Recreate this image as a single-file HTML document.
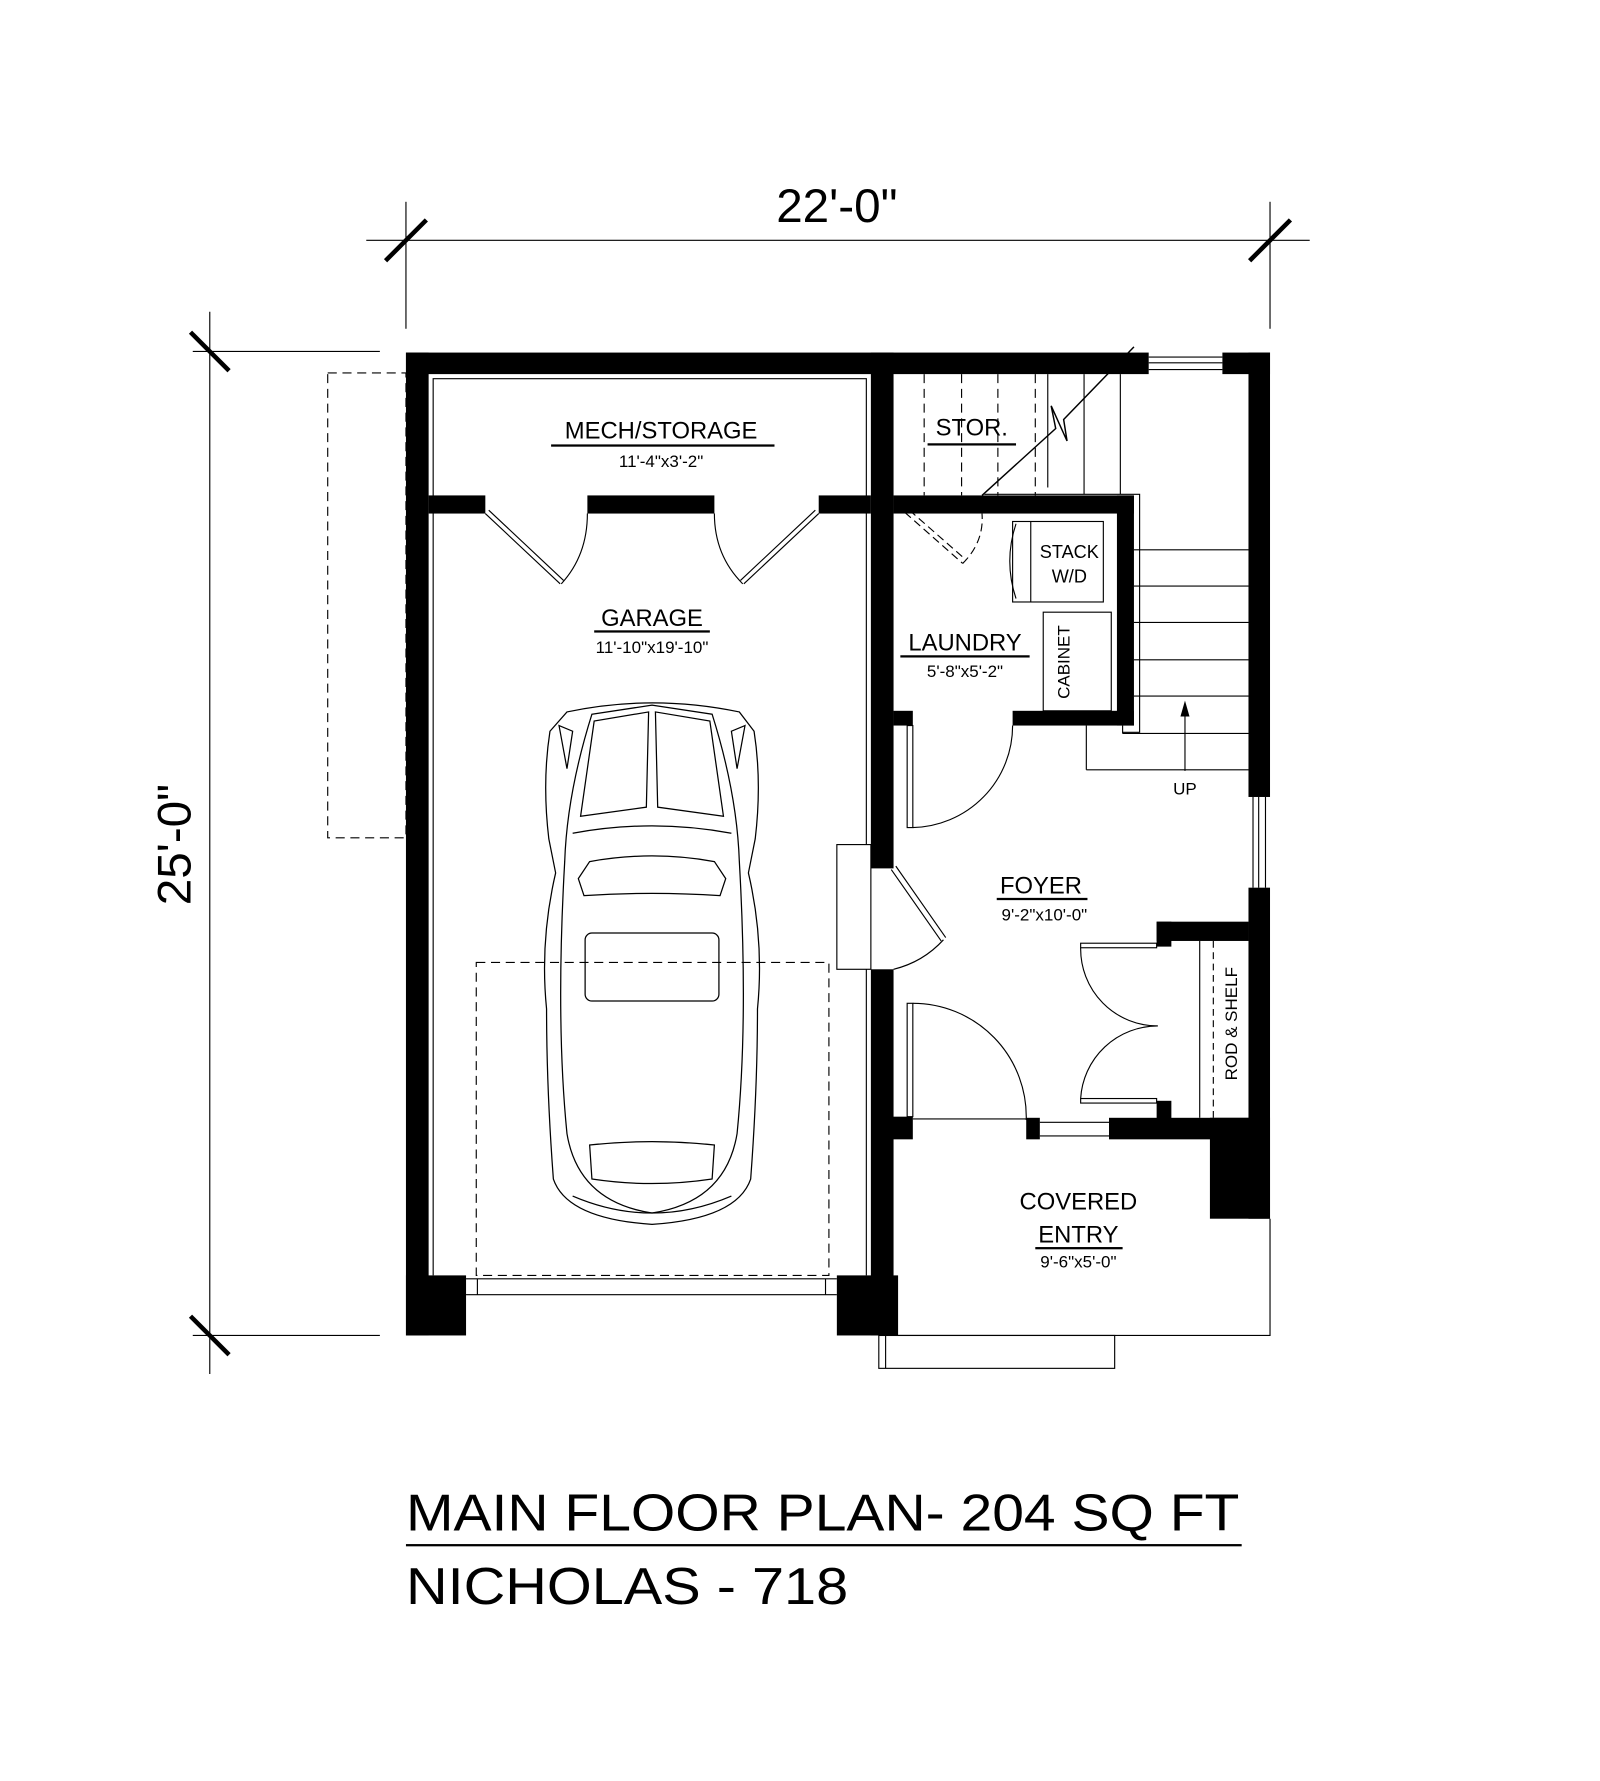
<!DOCTYPE html>
<html><head><meta charset="utf-8"><style>
html,body{margin:0;padding:0;background:#fff}
svg{display:block}
text{font-family:"Liberation Sans",sans-serif;fill:#000}
</style></head><body>
<svg width="1600" height="1781" viewBox="0 0 1411 1571" preserveAspectRatio="none" xmlns="http://www.w3.org/2000/svg">
<rect width="1411" height="1571" fill="#fff"/>
<g stroke="#000" fill="none" stroke-width="1">
<line x1="323" y1="212" x2="1155" y2="212"/>
<line x1="358" y1="178" x2="358" y2="290"/>
<line x1="1120" y1="178" x2="1120" y2="290"/>
<line x1="340" y1="230" x2="376" y2="194" stroke-width="4"/>
<line x1="1102" y1="230" x2="1138" y2="194" stroke-width="4"/>
<line x1="185" y1="275" x2="185" y2="1212"/>
<line x1="170" y1="310" x2="335" y2="310"/>
<line x1="170" y1="1178" x2="335" y2="1178"/>
<line x1="168" y1="293" x2="202" y2="327" stroke-width="4"/>
<line x1="168" y1="1161" x2="202" y2="1195" stroke-width="4"/>
<rect x="289" y="329" width="69" height="410" stroke-dasharray="8,5"/>
<rect x="420" y="849" width="311" height="276" stroke-dasharray="8,5"/>
<polyline points="382,1125 382,334 764,334 764,745"/>
<line x1="764" y1="855" x2="764" y2="1125"/>
<rect x="738" y="745" width="30" height="110"/>
<line x1="411" y1="1128" x2="738" y2="1128"/>
<line x1="411" y1="1142" x2="738" y2="1142"/>
<line x1="421" y1="1128" x2="421" y2="1142"/>
<line x1="728" y1="1128" x2="728" y2="1142"/>
<line x1="1013" y1="315" x2="1078" y2="315"/>
<line x1="1013" y1="326" x2="1078" y2="326"/>
<line x1="1013" y1="320" x2="1078" y2="320"/>
<line x1="1105" y1="703" x2="1105" y2="783"/>
<line x1="1116" y1="703" x2="1116" y2="783"/>
<line x1="1110" y1="703" x2="1110" y2="783"/>
<line x1="917" y1="990" x2="978" y2="990"/>
<line x1="917" y1="1002" x2="978" y2="1002"/>
<polyline points="788,1178 1120,1178 1120,1075"/>
<rect x="775" y="1178" width="208" height="29"/>
<line x1="781" y1="1178" x2="781" y2="1207"/>
<line x1="1000" y1="485" x2="1101" y2="485"/>
<line x1="1000" y1="517" x2="1101" y2="517"/>
<line x1="1000" y1="549" x2="1101" y2="549"/>
<line x1="1000" y1="582" x2="1101" y2="582"/>
<line x1="1000" y1="614" x2="1101" y2="614"/>
<line x1="990" y1="647" x2="1101" y2="647"/>
<line x1="958" y1="679" x2="1101" y2="679"/>
<line x1="958" y1="640" x2="958" y2="679"/>
<line x1="990" y1="640" x2="990" y2="647"/>
<polyline points="868,436 1005,436 1005,646 990,646"/>
<line x1="924" y1="330" x2="924" y2="430"/>
<line x1="956" y1="330" x2="956" y2="436"/>
<line x1="988" y1="330" x2="988" y2="436"/>
<g stroke-dasharray="8,5">
<line x1="815" y1="330" x2="815" y2="437"/>
<line x1="848" y1="330" x2="848" y2="437"/>
<line x1="880" y1="330" x2="880" y2="437"/>
<line x1="913" y1="330" x2="913" y2="437"/>
</g>
<polyline points="866,437 931,378 927,358 941,389 938,370 1000,306" stroke-width="1.3"/>
<line x1="1045" y1="680" x2="1045" y2="625"/>
<rect x="893" y="460" width="80" height="71"/>
<line x1="909" y1="460" x2="909" y2="531"/>
<path d="M896,462 Q885,495 896,528"/>
<rect x="920" y="540" width="60" height="87"/>
<line x1="798" y1="452" x2="849" y2="497" stroke-dasharray="7,4"/>
<line x1="802" y1="450" x2="852" y2="494" stroke-dasharray="7,4"/>
<path d="M849,497 Q868,478 866,453" stroke-dasharray="7,4"/>
<rect x="800" y="640" width="5" height="90"/>
<path d="M805,730 A90,90 0 0 0 893,640"/>
<line x1="786" y1="767" x2="830" y2="830"/>
<line x1="790" y1="764" x2="834" y2="827"/>
<path d="M832,829 A88,88 0 0 1 788,855"/>
<rect x="800" y="885" width="5" height="100"/>
<path d="M805,885 A100,100 0 0 1 905,988"/>
<line x1="805" y1="987" x2="905" y2="987"/>
<rect x="953" y="832" width="67" height="4"/>
<rect x="953" y="969" width="67" height="4"/>
<path d="M953,836 A68,68 0 0 0 1021,905"/>
<path d="M953,969 A68,68 0 0 1 1021,905"/>
<line x1="1058" y1="830" x2="1058" y2="986"/>
<line x1="1070" y1="830" x2="1070" y2="986" stroke-dasharray="6,4"/>
<line x1="428" y1="453" x2="494" y2="515"/>
<line x1="431" y1="450" x2="497" y2="512"/>
<path d="M495,515 Q518,490 518,453"/>
<line x1="722" y1="453" x2="656" y2="515"/>
<line x1="719" y1="450" x2="653" y2="512"/>
<path d="M655,515 Q630,490 630,453"/>
<g stroke-width="1.1">
<path d="M500,628 Q575,612 652,628 L665,645 Q672,690 666,740 L660,770 Q674,830 668,890 Q668,960 662,1040 Q650,1075 575,1080 Q500,1075 488,1040 Q482,960 482,890 Q476,830 490,770 L484,740 Q478,690 485,645 Z"/>
<path d="M522,630 L575,622 L628,630 Q650,700 652,760 Q660,900 650,1000 Q640,1060 575,1070 Q510,1060 500,1000 Q490,900 498,760 Q500,700 522,630 Z"/>
<path d="M524,636 L512,720 L570,712 L572,628 Z"/>
<path d="M626,636 L638,720 L580,712 L578,628 Z"/>
<path d="M505,735 Q575,722 645,735"/>
<path d="M510,775 L520,760 Q575,750 630,760 L640,775 L635,790 Q575,786 515,790 Z"/>
<rect x="516" y="823" width="118" height="60" rx="6"/>
<path d="M520,1010 Q575,1004 630,1010 L628,1040 Q575,1048 522,1040 Z"/>
<path d="M505,1055 Q575,1085 645,1055"/>
<path d="M493,640 L505,645 L500,678 Z M657,640 L645,645 L650,678 Z"/>
</g>
</g>
<g fill="#000">
<rect x="358" y="311" width="655" height="19"/>
<rect x="1078" y="311" width="42" height="19"/>
<rect x="1101" y="311" width="19" height="392"/>
<rect x="1101" y="783" width="19" height="292"/>
<rect x="1067" y="986" width="53" height="89"/>
<rect x="358" y="311" width="20" height="867"/>
<rect x="358" y="1125" width="53" height="53"/>
<rect x="738" y="1125" width="54" height="53"/>
<rect x="768" y="311" width="20" height="455"/>
<rect x="768" y="855" width="20" height="323"/>
<rect x="778" y="985" width="27" height="20"/>
<rect x="905" y="986" width="12" height="19"/>
<rect x="978" y="986" width="123" height="19"/>
<rect x="1020" y="813" width="81" height="17"/>
<rect x="1020" y="813" width="13" height="22"/>
<rect x="1020" y="971" width="13" height="17"/>
<rect x="788" y="437" width="212" height="16"/>
<rect x="985" y="437" width="15" height="203"/>
<rect x="893" y="627" width="107" height="13"/>
<rect x="788" y="627" width="17" height="13"/>
<rect x="378" y="437" width="50" height="16"/>
<rect x="518" y="437" width="112" height="16"/>
<rect x="722" y="437" width="46" height="16"/>
<polygon points="1045,618 1041,632 1049,632"/>
</g>
<g text-anchor="middle">
<text x="738" y="196" font-size="42">22'-0"</text>
<text transform="translate(168,745) rotate(-90)" font-size="42">25'-0"</text>
<text x="583" y="387" font-size="21">MECH/STORAGE</text>
<text x="583" y="412" font-size="15">11'-4"x3'-2"</text>
<text x="857" y="384" font-size="21">STOR.</text>
<text x="575" y="552" font-size="21">GARAGE</text>
<text x="575" y="576" font-size="15">11'-10"x19'-10"</text>
<text x="851" y="574" font-size="21">LAUNDRY</text>
<text x="851" y="597" font-size="15">5'-8"x5'-2"</text>
<text x="943" y="492" font-size="16">STACK</text>
<text x="943" y="514" font-size="16">W/D</text>
<text transform="translate(943,584) rotate(-90)" font-size="15">CABINET</text>
<text x="1045" y="701" font-size="15">UP</text>
<text x="918" y="788" font-size="21">FOYER</text>
<text x="921" y="812" font-size="15">9'-2"x10'-0"</text>
<text transform="translate(1091,903) rotate(-90)" font-size="15">ROD &amp; SHELF</text>
<text x="951" y="1067" font-size="21">COVERED</text>
<text x="951" y="1096" font-size="21">ENTRY</text>
<text x="951" y="1118" font-size="15">9'-6"x5'-0"</text>
</g>
<g fill="#000">
<rect x="486" y="392" width="197" height="2"/>
<rect x="818" y="391" width="78" height="2"/>
<rect x="524" y="556" width="102" height="2"/>
<rect x="794" y="578" width="114" height="2"/>
<rect x="879" y="792" width="80" height="2"/>
<rect x="913" y="1100" width="77" height="2"/>
<rect x="358" y="1362" width="737" height="2"/>
</g>
<text x="358" y="1350" font-size="46" textLength="735" lengthAdjust="spacingAndGlyphs">MAIN FLOOR PLAN- 204 SQ FT</text>
<text x="358" y="1415" font-size="46" textLength="390" lengthAdjust="spacingAndGlyphs">NICHOLAS - 718</text>
</svg>
</body></html>
